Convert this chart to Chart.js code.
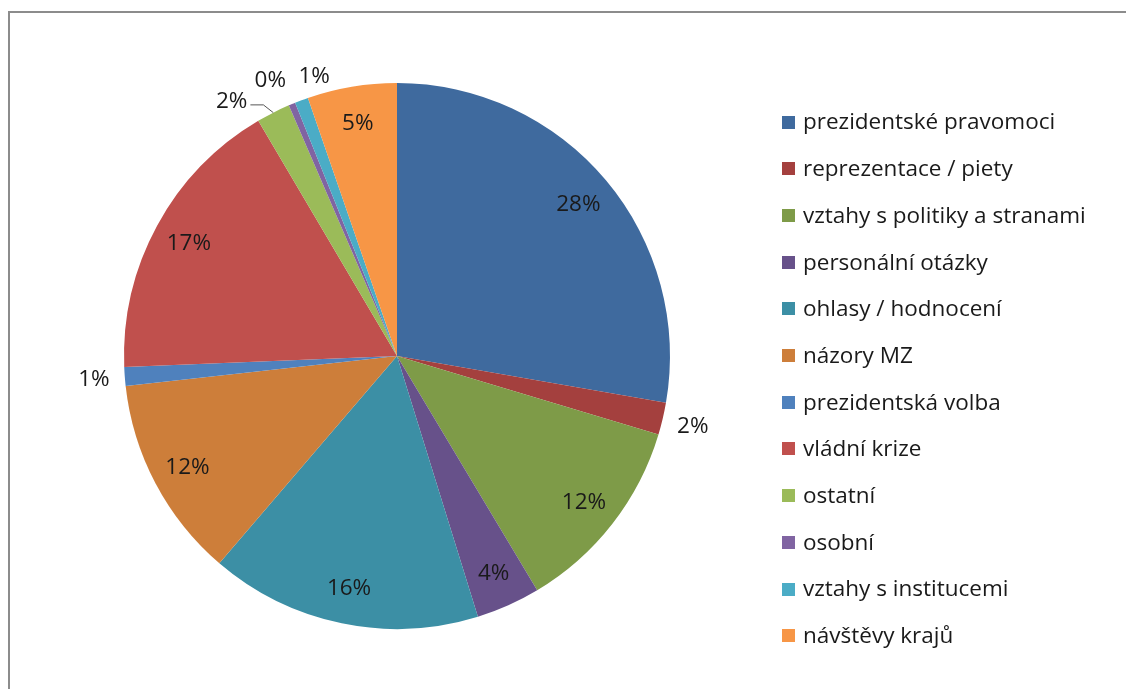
<!DOCTYPE html>
<html lang="cs">
  <head>
    <meta charset="UTF-8" />
    <title>Témata</title>
    <script src="https://cdn.jsdelivr.net/npm/chart.js@4.4.0/dist/chart.umd.min.js"></script>
    <style>
      html, body { margin: 0; padding: 0; background: #fff; }
      #wrap { position: relative; width: 1126px; height: 689px; overflow: hidden; }
      #frame {
        position: absolute; left: 8px; top: 11px; width: 1200px; height: 800px;
        border-top: 2px solid #8c8c8c; border-left: 2px solid #8c8c8c;
      }
      #myChart { position: absolute; left: 0; top: 0; }
    </style>
  </head>
  <body>
    <div id="wrap">
      <div id="frame"></div>
      <canvas id="myChart" width="1126" height="689"></canvas>
    </div>
    <script>
      // categories and their shares
      const categories = [
        "prezidentské pravomoci",
        "reprezentace / piety",
        "vztahy s politiky a stranami",
        "personální otázky",
        "ohlasy / hodnocení",
        "názory MZ",
        "prezidentská volba",
        "vládní krize",
        "ostatní",
        "osobní",
        "vztahy s institucemi",
        "návštěvy krajů",
      ];
      const shares = [27.8, 1.9, 11.8, 3.8, 16.1, 12.0, 1.1, 17.2, 2.0, 0.4, 0.8, 5.3];

      const colors = [
        "#3f6a9e", "#a4403e", "#7e9b48", "#67518a", "#3c8fa5", "#cd7e3a",
        "#4f81bd", "#c0504d", "#9bbb59", "#8064a2", "#4bacc6", "#f79646",
      ];

      const fontFamily = "'Open Sans', Lato, sans-serif";
      const textColor = "#1a1a1a";

      // small slices get their label outside; a few are nudged so they don't collide
      const outsideLimit = 3; // percent
      const nudgeDeg = { 8: -6, 9: -2, 10: 4 };
      const nudgeRadius = { 10: -12 };
      const leaderFor = [8];

      function pct(i) {
        const total = shares.reduce((a, b) => a + b, 0);
        return Math.round((shares[i] / total) * 100);
      }

      const labelPlugin = {
        id: "sliceLabels",
        afterDatasetsDraw(chart) {
          const ctx = chart.ctx;
          const meta = chart.getDatasetMeta(0);
          ctx.save();
          ctx.font = "22.5px " + fontFamily;
          ctx.fillStyle = textColor;
          ctx.textAlign = "center";
          ctx.textBaseline = "middle";
          meta.data.forEach((arc, i) => {
            const p = pct(i);
            const mid = (arc.startAngle + arc.endAngle) / 2;
            const R = arc.outerRadius;
            let r, a = mid;
            if (shares[i] >= outsideLimit) {
              r = R * 0.868;
            } else {
              a = mid + ((nudgeDeg[i] || 0) * Math.PI) / 180;
              r = R + 31 + (nudgeRadius[i] || 0);
            }
            const x = arc.x + Math.cos(a) * r;
            const y = arc.y + Math.sin(a) * r + 1;
            ctx.fillText(p + "%", x, y);
            if (leaderFor.includes(i)) {
              // leader line from label to slice edge
              const w = ctx.measureText(p + "%").width;
              const ex = arc.x + Math.cos(mid) * R;
              const ey = arc.y + Math.sin(mid) * R;
              ctx.strokeStyle = "#555";
              ctx.lineWidth = 1;
              ctx.beginPath();
              ctx.moveTo(x + w / 2 + 3, y + 3);
              ctx.lineTo(x + w / 2 + 16, y + 3);
              ctx.lineTo(ex, ey);
              ctx.stroke();
            }
          });
          ctx.restore();
        },
      };

      // legend drawn on the right, one row per category
      const legendPlugin = {
        id: "sideLegend",
        afterDraw(chart) {
          const ctx = chart.ctx;
          const left = 782, top = 122, step = 46.7, box = 13;
          ctx.save();
          ctx.font = "22.5px " + fontFamily;
          ctx.textBaseline = "middle";
          ctx.textAlign = "left";
          categories.forEach((name, i) => {
            const y = top + i * step;
            ctx.fillStyle = colors[i];
            ctx.fillRect(left, Math.round(y - box / 2), box, box);
            ctx.fillStyle = textColor;
            ctx.fillText(name, left + 21, y + 1);
          });
          ctx.restore();
        },
      };

      const ctx = document.getElementById("myChart").getContext("2d");
      const chart = new Chart(ctx, {
        type: "pie",
        data: {
          labels: categories,
          datasets: [
            {
              data: shares,
              backgroundColor: colors,
              borderWidth: 0,
            },
          ],
        },
        options: {
          responsive: false,
          animation: false,
          layout: { padding: { left: 22, right: 354, top: 83, bottom: 60 } },
          plugins: {
            legend: { display: false },
            tooltip: { enabled: false },
          },
        },
        plugins: [labelPlugin, legendPlugin],
      });
    </script>
  </body>
</html>
